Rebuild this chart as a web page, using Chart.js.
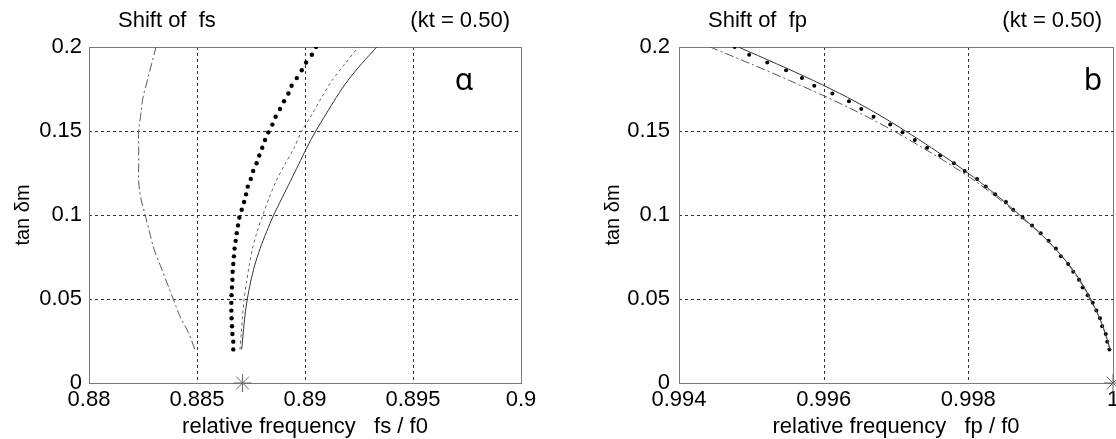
<!DOCTYPE html>
<html>
<head>
<meta charset="utf-8">
<script src="https://cdn.jsdelivr.net/npm/chart.js@4.4.1/dist/chart.umd.min.js"></script>
<style>
  html, body { margin: 0; padding: 0; background: #fff; }
  #wrap { position: relative; width: 1116px; height: 439px; overflow: hidden; }
  canvas { position: absolute; top: 0; }
  #cLeft { left: 0; }
  #cRight { left: 558px; }
</style>
</head>
<body>
<div id="wrap">
  <canvas id="cLeft" width="558" height="439"></canvas>
  <canvas id="cRight" width="580" height="439"></canvas>
</div>
<script>
// ---------- data ----------
// y values (tan δm) shared by the line curves
const yLine = [0.02,0.03,0.04,0.05,0.06,0.07,0.08,0.09,0.10,0.11,0.12,0.13,0.14,0.15,0.16,0.17,0.18,0.19,0.20];
// y values of the dotted series
const yDots = [0.02,0.0246,0.0292,0.0338,0.0385,0.0431,0.0477,0.0523,0.0569,0.0615,0.0662,0.0708,0.0754,0.08,0.0846,0.0892,0.0938,0.0985,0.1031,0.1077,0.1123,0.1169,0.1215,0.1262,0.1308,0.1354,0.14,0.1446,0.1492,0.1538,0.1585,0.1631,0.1677,0.1723,0.1769,0.1815,0.1862,0.1908,0.1954,0.2];

// Panel a: shift of fs
const fsDashDot = [0.8849,0.8846,0.8842,0.8839,0.8836,0.8833,0.8830,0.8828,0.8826,0.8824,0.8823,0.8823,0.8823,0.8823,0.8824,0.8825,0.8827,0.8829,0.8831];
const fsDashed  = [0.88699,0.88705,0.88711,0.88718,0.88729,0.88742,0.88757,0.88778,0.88805,0.88833,0.88866,0.88906,0.88950,0.88985,0.89033,0.89077,0.89125,0.89185,0.89247];
const fsSolid   = [0.88707,0.88714,0.88722,0.88733,0.88748,0.88767,0.88792,0.88822,0.88855,0.88893,0.88932,0.88970,0.89008,0.89050,0.89097,0.89145,0.89198,0.89262,0.89332];
const fsDots    = [0.88668,0.88668,0.88664,0.88662,0.8866,0.88659,0.88659,0.8866,0.88662,0.88664,0.88665,0.88668,0.88671,0.88674,0.88679,0.88684,0.8869,0.88696,0.88707,0.88718,0.88727,0.88735,0.88749,0.8876,0.88776,0.88788,0.88802,0.88815,0.8883,0.88849,0.88864,0.88884,0.88903,0.88923,0.88938,0.88962,0.88985,0.89005,0.89032,0.89051];
const fsStar    = [0.88711, 0];

// Panel b: shift of fp
const fpSolid   = [0.99996,0.99989,0.9998,0.99969,0.99956,0.9994,0.9992,0.99897,0.99871,0.99844,0.99815,0.99783,0.99749,0.99713,0.99675,0.99633,0.99586,0.99535,0.99482];
const fpDashDot = [0.99996,0.99989,0.9998,0.99968,0.99955,0.99939,0.9992,0.99897,0.99869,0.99841,0.9981,0.99775,0.99737,0.99697,0.99653,0.99605,0.99553,0.99499,0.99443];
const fpDots    = [0.99995,0.99992,0.9999,0.99985,0.99982,0.99977,0.99972,0.99965,0.99958,0.99953,0.99945,0.99938,0.99928,0.99921,0.99911,0.999,0.99888,0.99875,0.99862,0.99852,0.99837,0.99824,0.99812,0.99795,0.9978,0.99761,0.99743,0.99726,0.99709,0.99692,0.99669,0.99652,0.99635,0.99612,0.99587,0.9957,0.99548,0.99522,0.99497,0.99477];
const fpStar    = [1.0, 0];

// axis ticks
const yTicks = [0, 0.05, 0.1, 0.15, 0.2];
const yTickLabels = ["0", "0.05", "0.1", "0.15", "0.2"];
const fsTicks = [0.88, 0.885, 0.89, 0.895, 0.9];
const fsTickLabels = ["0.88", "0.885", "0.89", "0.895", "0.9"];
const fpTicks = [0.994, 0.996, 0.998, 1.0];
const fpTickLabels = ["0.994", "0.996", "0.998", "1"];

// ---------- helpers ----------
const FONT = '"Liberation Sans", Arial, sans-serif';
const pts = (xs, ys) => xs.map((x, i) => ({ x: x, y: ys[i] }));

const frame = {
  id: 'frame',
  beforeDatasetsDraw(chart, args, opts) {
    const { ctx, chartArea: a, scales } = chart;
    ctx.save();
    ctx.lineWidth = 1;
    ctx.strokeStyle = '#333';
    ctx.setLineDash([3, 3]);
    ctx.beginPath();
    scales.x.ticks.forEach(t => {
      const px = Math.round(scales.x.getPixelForValue(t.value)) + 0.5;
      if (px > a.left + 2 && px < a.right - 2) { ctx.moveTo(px, a.top); ctx.lineTo(px, a.bottom); }
    });
    scales.y.ticks.forEach(t => {
      const py = Math.round(scales.y.getPixelForValue(t.value)) + 0.5;
      if (py > a.top + 2 && py < a.bottom - 2) { ctx.moveTo(a.left, py); ctx.lineTo(a.right, py); }
    });
    ctx.stroke();
    ctx.setLineDash([]);
    ctx.strokeStyle = '#7a7a7a';
    ctx.strokeRect(Math.round(a.left) + 0.5, Math.round(a.top) + 0.5, Math.round(a.right - a.left), Math.round(a.bottom - a.top));
    ctx.restore();
  },
  afterDraw(chart, args, opts) {
    const { ctx, chartArea: a } = chart;
    ctx.save();
    ctx.fillStyle = '#000';
    ctx.textBaseline = 'alphabetic';
    ctx.font = '22px ' + FONT;
    ctx.textAlign = 'left';
    ctx.fillText(opts.title, a.left + 29, 27);
    ctx.textAlign = 'right';
    ctx.fillText(opts.kt, a.right - 11, 27);
    ctx.font = '30px "Noto Sans", "DejaVu Sans", sans-serif';
    ctx.textAlign = 'center';
    ctx.fillText(opts.tag, a.right - opts.tagOffset, 90);
    ctx.restore();
  }
};

function makeChart(canvasId, cfg) {
  return new Chart(document.getElementById(canvasId), {
    type: 'scatter',
    data: { datasets: cfg.datasets },
    options: {
      responsive: false,
      animation: false,
      devicePixelRatio: 1,
      layout: { padding: { left: 0, right: cfg.padRight, top: 47, bottom: 0 } },
      plugins: {
        legend: { display: false },
        tooltip: { enabled: false },
        frame: { title: cfg.title, kt: '(kt = 0.50)', tag: cfg.tag, tagOffset: cfg.tagOffset }
      },
      scales: {
        x: {
          type: 'linear', min: cfg.xTicks[0], max: cfg.xTicks[cfg.xTicks.length - 1],
          grid: { display: false, drawTicks: false },
          border: { display: false },
          afterBuildTicks: s => { s.ticks = cfg.xTicks.map(v => ({ value: v })); },
          afterFit: s => { s.height = 56; },
          ticks: {
            padding: 4, color: '#000', maxRotation: 0, autoSkip: false,
            font: { family: FONT, size: 22, lineHeight: 1.2 },
            callback: (v, i) => cfg.xLabels[i]
          },
          title: {
            display: true, text: cfg.xTitle, color: '#000',
            font: { family: FONT, size: 22, lineHeight: 1 },
            padding: { top: 0, bottom: 1 }
          }
        },
        y: {
          type: 'linear', min: 0, max: 0.2,
          grid: { display: false, drawTicks: false },
          border: { display: false },
          afterBuildTicks: s => { s.ticks = yTicks.map(v => ({ value: v })); },
          afterFit: s => { s.width = cfg.yWidth; },
          ticks: {
            padding: cfg.yPad, color: '#000', autoSkip: false,
            font: { family: FONT, size: 22, lineHeight: 1.2 },
            callback: (v, i) => yTickLabels[i]
          },
          title: {
            display: true, text: 'tan δm', color: '#000',
            font: { family: FONT, size: 20, lineHeight: 1.2 },
            padding: { top: cfg.yTitlePad, bottom: 0 }
          }
        }
      }
    },
    plugins: [frame]
  });
}

const lineDs = (xs, color, dash, width) => ({
  data: pts(xs, yLine), showLine: true, borderColor: color, borderWidth: width,
  borderDash: dash, pointRadius: 0, tension: 0.3, fill: false
});
const dotDs = (xs, r) => ({
  data: pts(xs, yDots), showLine: false, pointRadius: r, pointBackgroundColor: '#000',
  pointBorderWidth: 0, pointBorderColor: '#000'
});
const starDs = (p, r) => ({
  data: [{ x: p[0], y: p[1] }], showLine: false, pointStyle: 'star', pointRadius: r,
  pointBorderColor: '#666', pointBorderWidth: 1, pointBackgroundColor: 'transparent', clip: false
});

makeChart('cLeft', {
  xTicks: fsTicks, xLabels: fsTickLabels, xTitle: 'relative frequency   fs / f0',
  title: 'Shift of  fs', tag: 'ɑ', tagOffset: 57,
  padRight: 37, yWidth: 89, yPad: 7, yTitlePad: 11,
  datasets: [
    lineDs(fsDashDot, '#555', [9, 3, 2, 3], 1),
    lineDs(fsDashed, '#666', [3, 3], 1),
    lineDs(fsSolid, '#333', [], 1),
    dotDs(fsDots, 2.2),
    starDs(fsStar, 9)
  ]
});

// right canvas is 580 wide (overflow clipped by the 1116 px wrapper) so the plot's right edge lands at x=1113
makeChart('cRight', {
  xTicks: fpTicks, xLabels: fpTickLabels, xTitle: 'relative frequency   fp / f0',
  title: 'Shift of  fp', tag: 'b', tagOffset: 20,
  padRight: 25, yWidth: 121, yPad: 9, yTitlePad: 43,
  datasets: [
    lineDs(fpDashDot, '#555', [9, 3, 2, 3], 1),
    lineDs(fpSolid, '#333', [], 1),
    dotDs(fpDots, 2),
    starDs(fpStar, 9)
  ]
});
</script>
</body>
</html>
